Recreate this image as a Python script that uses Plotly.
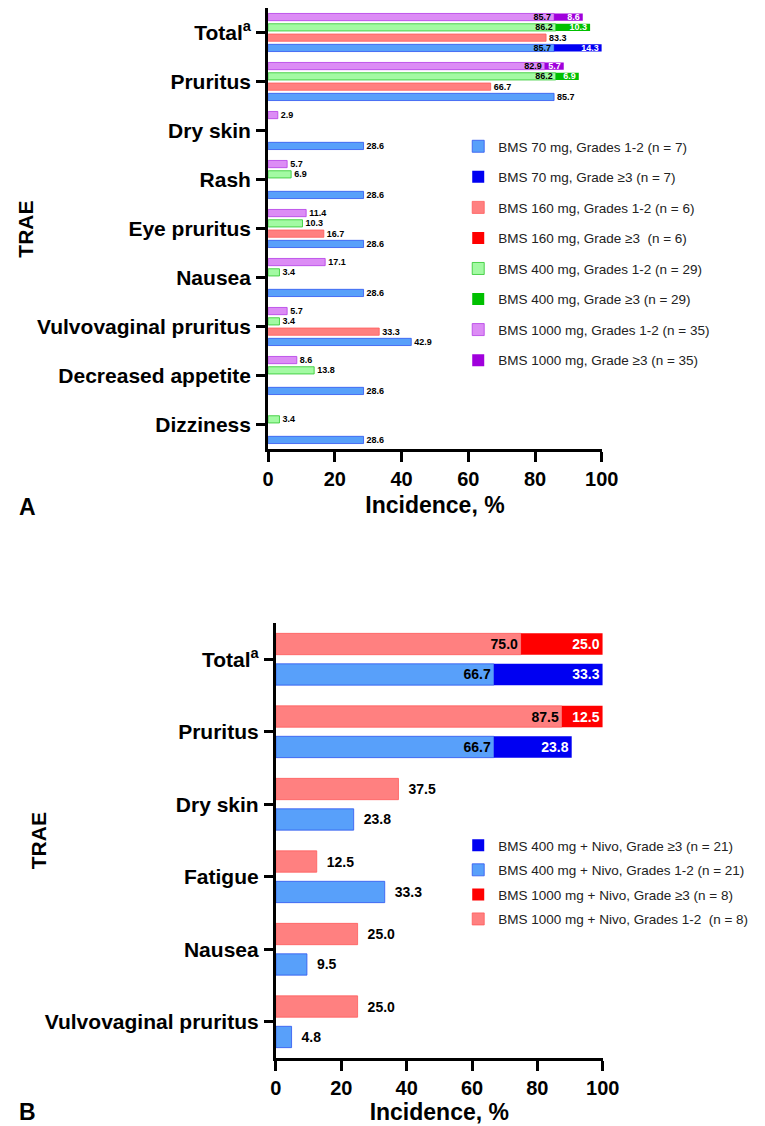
import plotly.graph_objects as go

# ---------------- Panel A data ----------------
cats_a = ["Total<sup>a</sup>", "Pruritus", "Dry skin", "Rash", "Eye pruritus", "Nausea",
          "Vulvovaginal pruritus", "Decreased appetite", "Dizziness"]
bms70_g12 = [85.7, 85.7, 28.6, 28.6, 28.6, 28.6, 42.9, 28.6, 28.6]
bms70_g3 = [14.3, None, None, None, None, None, None, None, None]
bms160_g12 = [83.3, 66.7, None, None, 16.7, None, 33.3, None, None]
bms160_g3 = [None, None, None, None, None, None, None, None, None]
bms400_g12 = [86.2, 86.2, None, 6.9, 10.3, 3.4, 3.4, 13.8, 3.4]
bms400_g3 = [10.3, 6.9, None, None, None, None, None, None, None]
bms1000_g12 = [85.7, 82.9, 2.9, 5.7, 11.4, 17.1, 5.7, 8.6, None]
bms1000_g3 = [8.6, 5.7, None, None, None, None, None, None, None]

names_a = ["BMS 70 mg, Grades 1-2 (n = 7)", "BMS 70 mg, Grade \u22653 (n = 7)",
           "BMS 160 mg, Grades 1-2 (n = 6)", "BMS 160 mg, Grade \u22653  (n = 6)",
           "BMS 400 mg, Grades 1-2 (n = 29)", "BMS 400 mg, Grade \u22653 (n = 29)",
           "BMS 1000 mg, Grades 1-2 (n = 35)", "BMS 1000 mg, Grade \u22653 (n = 35)"]

# ---------------- Panel B data ----------------
cats_b = ["Total<sup>a</sup>", "Pruritus", "Dry skin", "Fatigue", "Nausea", "Vulvovaginal pruritus"]
nivo400_g12 = [66.7, 66.7, 23.8, 33.3, 9.5, 4.8]
nivo400_g3 = [33.3, 23.8, None, None, None, None]
nivo1000_g12 = [75.0, 87.5, 37.5, 12.5, 25.0, 25.0]
nivo1000_g3 = [25.0, 12.5, None, None, None, None]

names_b = ["BMS 400 mg + Nivo, Grade \u22653 (n = 21)", "BMS 400 mg + Nivo, Grades 1-2 (n = 21)",
           "BMS 1000 mg + Nivo, Grade \u22653 (n = 8)", "BMS 1000 mg + Nivo, Grades 1-2  (n = 8)"]

# colours
LBLUE, DBLUE, EBLUE = "#58A0FA", "#0000F2", "#2F55F0"
LRED, DRED, ERED = "#FF8080", "#FF0000", "#FF5A5A"
LGREEN, DGREEN, EGREEN = "#A3FAA3", "#00C000", "#2BC72B"
LPURP, DPURP, EPURP = "#DC8CF5", "#A000DC", "#B43CE6"

W, H = 765, 1126
ARIAL = "Liberation Sans, Arial, sans-serif"

fig = go.Figure()


def fmt(vals, prefix=""):
    return [(prefix + f"{v:.1f}") if v is not None else "" for v in vals]


def add_pair(g12, g3, cats, n12, n3, light, dark, edge, grp, r12, r3, xa, ya, legend, fsize, outpref):
    pos = ["inside" if b is not None else "outside" for b in g3]
    fig.add_trace(go.Bar(
        y=cats, x=g12, orientation="h", name=n12, offsetgroup=grp, legendgroup=n12,
        legendrank=r12, legend=legend, xaxis=xa, yaxis=ya,
        marker=dict(color=light, line=dict(color=edge, width=0.8)),
        text=[(t if p == "inside" else outpref + t) for t, p in zip(fmt(g12), pos)],
        textposition=pos, insidetextanchor="end", constraintext="none", cliponaxis=False,
        insidetextfont=dict(family=ARIAL, size=fsize, color="black", weight="bold"),
        outsidetextfont=dict(family=ARIAL, size=fsize, color="black", weight="bold"),
        hoverinfo="skip"))
    base = [a if b is not None else None for a, b in zip(g12, g3)]
    fig.add_trace(go.Bar(
        y=cats, x=g3, base=base, orientation="h", name=n3, offsetgroup=grp, legendgroup=n3,
        legendrank=r3, legend=legend, xaxis=xa, yaxis=ya,
        marker=dict(color=dark, line=dict(color=dark, width=0)),
        text=fmt(g3), textposition="inside", insidetextanchor="end", constraintext="none",
        insidetextfont=dict(family=ARIAL, size=fsize, color="white", weight="bold"),
        cliponaxis=False, hoverinfo="skip"))


# Panel A: first added offsetgroup is drawn at the top
add_pair(bms1000_g12, bms1000_g3, cats_a, names_a[6], names_a[7], LPURP, DPURP, EPURP, "a1000", 7, 8, "x", "y", "legend", 9, "")
add_pair(bms400_g12, bms400_g3, cats_a, names_a[4], names_a[5], LGREEN, DGREEN, EGREEN, "a400", 5, 6, "x", "y", "legend", 9, "")
add_pair(bms160_g12, bms160_g3, cats_a, names_a[2], names_a[3], LRED, DRED, ERED, "a160", 3, 4, "x", "y", "legend", 9, "")
add_pair(bms70_g12, bms70_g3, cats_a, names_a[0], names_a[1], LBLUE, DBLUE, EBLUE, "a70", 1, 2, "x", "y", "legend", 9, "")

# Panel B
add_pair(nivo1000_g12, nivo1000_g3, cats_b, names_b[3], names_b[2], LRED, DRED, ERED, "b1000", 4, 3, "x2", "y2", "legend2", 14, "\u2002")
add_pair(nivo400_g12, nivo400_g3, cats_b, names_b[1], names_b[0], LBLUE, DBLUE, EBLUE, "b400", 2, 1, "x2", "y2", "legend2", 14, "\u2002")

axis_common = dict(showline=True, linecolor="black", linewidth=3, ticks="outside",
                   tickcolor="black", tickwidth=3, showgrid=False, zeroline=False)

xa_common = dict(axis_common, range=[0, 100], dtick=20, ticklen=10,
                 tickfont=dict(family=ARIAL, size=20, color="black", weight="bold"))
ya_common = dict(axis_common, ticklen=9, autorange="reversed", ticklabelstandoff=1,
                 tickfont=dict(family=ARIAL, size=21, color="black", weight="bold"))

fig.update_layout(
    width=W, height=H, margin=dict(l=0, r=0, t=0, b=0),
    paper_bgcolor="white", plot_bgcolor="white",
    barmode="group", bargap=0.16, bargroupgap=0.3,
    xaxis=dict(xa_common, domain=[262 / W, 606 / W], anchor="y",
               title=dict(text="Incidence, %", standoff=8,
                          font=dict(family=ARIAL, size=23, color="black", weight="bold"))),
    yaxis=dict(ya_common, domain=[1 - 441 / H, 1], anchor="x",
               categoryorder="array", categoryarray=cats_a),
    xaxis2=dict(xa_common, domain=[270 / W, 607 / W], anchor="y2",
                title=dict(text="Incidence, %", standoff=6,
                           font=dict(family=ARIAL, size=23, color="black", weight="bold"))),
    yaxis2=dict(ya_common, domain=[1 - 1050 / H, 1 - 615 / H], anchor="x2",
                categoryorder="array", categoryarray=cats_b),
    legend=dict(x=458 / W, y=1 - 123 / H, xanchor="left", yanchor="top",
                traceorder="grouped", tracegroupgap=10, bgcolor="rgba(0,0,0,0)",
                font=dict(family=ARIAL, size=13.5, color="#222222")),
    legend2=dict(x=458 / W, y=1 - 822 / H, xanchor="left", yanchor="top",
                 traceorder="grouped", tracegroupgap=4, bgcolor="rgba(0,0,0,0)",
                 font=dict(family=ARIAL, size=13.5, color="#222222")),
    showlegend=True,
    annotations=[
        dict(text="TRAE", x=12 / W, y=1 - 221 / H, xref="paper", yref="paper", textangle=-90,
             showarrow=False, xanchor="center", yanchor="middle",
             font=dict(family=ARIAL, size=21, color="black", weight="bold")),
        dict(text="TRAE", x=25 / W, y=1 - 833 / H, xref="paper", yref="paper", textangle=-90,
             showarrow=False, xanchor="center", yanchor="middle",
             font=dict(family=ARIAL, size=21, color="black", weight="bold")),
        dict(text="A", x=14 / W, y=1 - 499 / H, xref="paper", yref="paper",
             showarrow=False, xanchor="center", yanchor="middle",
             font=dict(family=ARIAL, size=23, color="black", weight="bold")),
        dict(text="B", x=14 / W, y=1 - 1104 / H, xref="paper", yref="paper",
             showarrow=False, xanchor="center", yanchor="middle",
             font=dict(family=ARIAL, size=23, color="black", weight="bold")),
    ],
)

fig.write_html("out.html")
